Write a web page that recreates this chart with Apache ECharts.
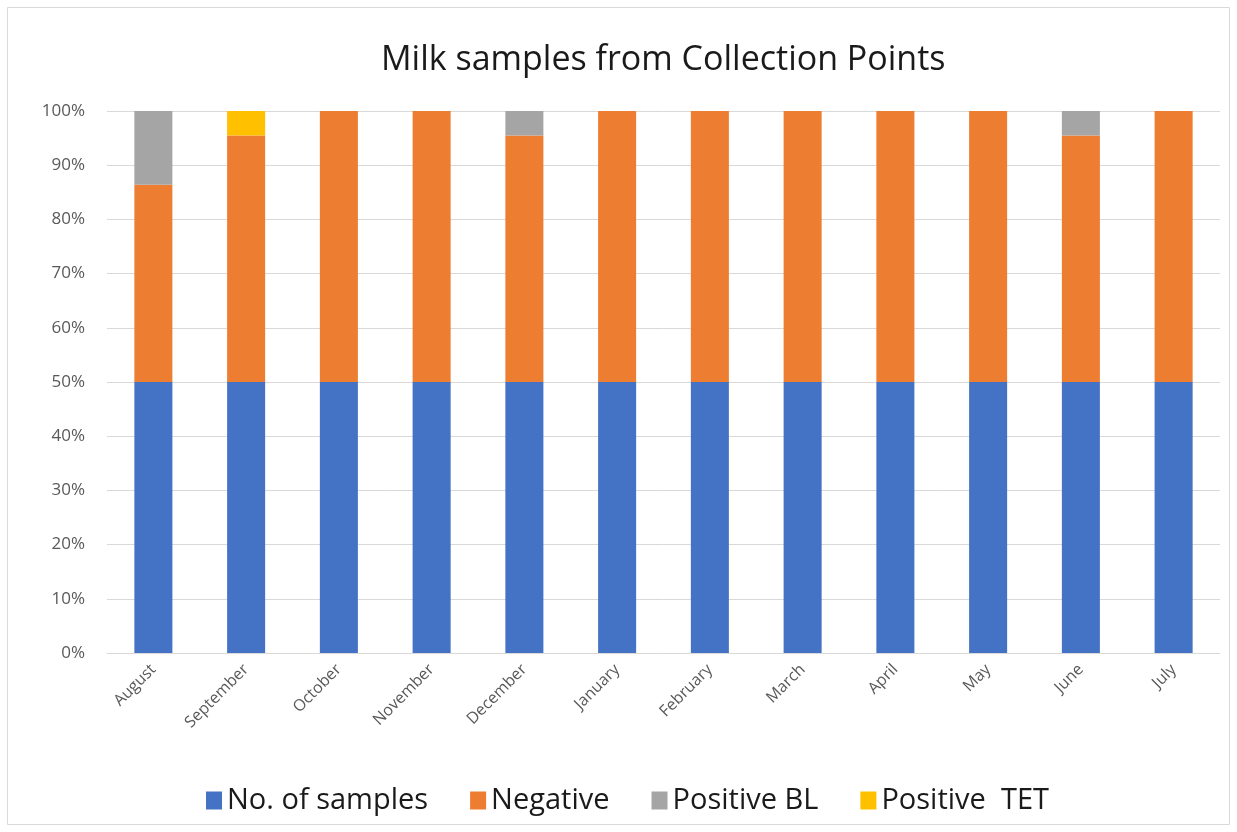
<!DOCTYPE html>
<html>
<head>
<meta charset="utf-8">
<script src="https://cdn.jsdelivr.net/npm/echarts@6/dist/echarts.min.js"></script>
<style>
  html, body { margin: 0; padding: 0; background: #fff; }
  #chart { width: 1237px; height: 832px; }
</style>
</head>
<body>
<div id="chart"></div>
<script>
  // months on the x axis
  const months = ['August', 'September', 'October', 'November', 'December', 'January',
    'February', 'March', 'April', 'May', 'June', 'July'];
  // shares of each column, in percent
  const samples = [50, 50, 50, 50, 50, 50, 50, 50, 50, 50, 50, 50];
  const negative = [36.4, 45.5, 50, 50, 45.5, 50, 50, 50, 50, 50, 45.5, 50];
  const positiveBL = [13.6, 0, 0, 0, 4.5, 0, 0, 0, 0, 0, 4.5, 0];
  const positiveTET = [0, 4.5, 0, 0, 0, 0, 0, 0, 0, 0, 0, 0];
  const yTicks = [0, 10, 20, 30, 40, 50, 60, 70, 80, 90, 100];

  const chart = echarts.init(document.getElementById('chart'));
  const font = 'Open Sans';

  const bar = (name, data, color) => ({
    name,
    type: 'bar',
    stack: 'total',
    data,
    barWidth: '41%',
    itemStyle: { color },
    emphasis: { disabled: true },
  });

  chart.setOption({
    backgroundColor: '#fff',
    animation: false,
    graphic: [
      {
        type: 'rect',
        shape: { x: 7.5, y: 7.5, width: 1222, height: 817 },
        style: { fill: 'none', stroke: '#d9d9d9', lineWidth: 1 },
        silent: true,
      },
    ],
    title: {
      text: 'Milk samples from Collection Points',
      left: 376,
      top: 38,
      textStyle: { fontFamily: font, fontSize: 34, fontWeight: 'normal', color: '#1a1a1a' },
    },
    legend: {
      bottom: 12,
      left: 201,
      itemWidth: 16,
      itemHeight: 18,
      itemGap: 42,
      icon: 'rect',
      textStyle: { fontFamily: font, fontSize: 29, color: '#1a1a1a' },
      data: ['No. of samples', 'Negative', 'Positive BL', 'Positive  TET'],
    },
    grid: { left: 107, right: 17, top: 111, bottom: 179, containLabel: false },
    xAxis: {
      type: 'category',
      data: months,
      axisLine: { lineStyle: { color: '#d9d9d9' } },
      axisTick: { show: false },
      axisLabel: {
        rotate: 45,
        margin: 14,
        fontFamily: font,
        fontSize: 16,
        color: '#595959',
      },
    },
    yAxis: {
      type: 'value',
      min: 0,
      max: 100,
      interval: 10,
      axisLine: { show: false },
      axisTick: { show: false },
      splitLine: { lineStyle: { color: '#d9d9d9' } },
      axisLabel: {
        margin: 22,
        fontFamily: font,
        fontSize: 17,
        color: '#595959',
        formatter: (v) => (yTicks.includes(v) ? v + '%' : ''),
      },
    },
    series: [
      bar('No. of samples', samples, '#4472C4'),
      bar('Negative', negative, '#ED7D31'),
      bar('Positive BL', positiveBL, '#A5A5A5'),
      bar('Positive  TET', positiveTET, '#FFC000'),
    ],
  });
</script>
</body>
</html>
